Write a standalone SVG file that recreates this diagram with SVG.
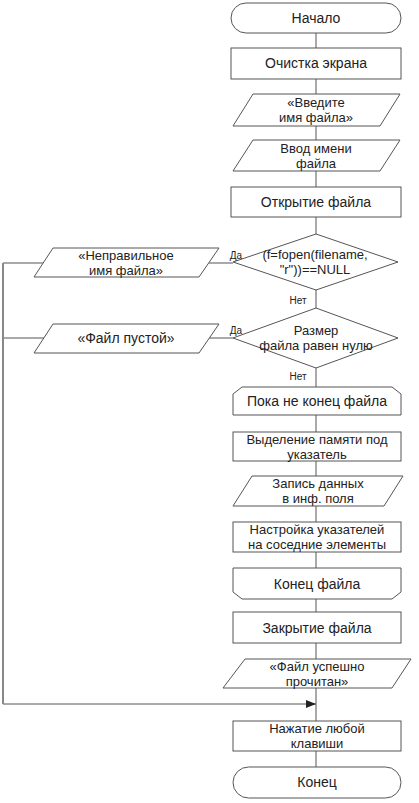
<svg xmlns="http://www.w3.org/2000/svg" width="419" height="803" viewBox="0 0 419 803">
<style>
.s{fill:#fff;stroke:#555;stroke-width:1}
.t{font-family:"Liberation Sans",Arial,sans-serif;font-size:14px;fill:#222;text-anchor:middle}
.m{font-size:13px}
.l{font-family:"Liberation Sans",Arial,sans-serif;font-size:10px;fill:#222;text-anchor:middle}
.c{fill:none;stroke:#555;stroke-width:1}
</style>
<defs>
<marker id="ah" markerWidth="10" markerHeight="8" refX="10" refY="4" orient="auto" markerUnits="userSpaceOnUse">
<path d="M0,0 L10,4 L0,8 Z" fill="#222"/>
</marker>
</defs>
<rect width="419" height="803" fill="#fff"/>
<g id="connectors">
<path class="c" d="M316,33 V767"/>
<path class="c" d="M3,704 H316" marker-end="url(#ah)"/>
<path class="c" d="M44,263 H3"/>
<path class="c" d="M44,338 H3"/>
<path class="c" d="M209,263 H233"/>
<path class="c" d="M209,338 H233"/>
<path class="c" d="M3,263 V704" style="stroke:#888;stroke-width:2"/>
</g>
<g id="start">
<rect class="s" x="231" y="3" width="170" height="30" rx="15"/>
<text class="t" x="316" y="23">Начало</text>
</g>
<g id="clear">
<rect class="s" x="231" y="48" width="170" height="31"/>
<text class="t" x="316" y="68">Очистка экрана</text>
</g>
<g id="prompt">
<polygon class="s" points="253,94 400,94 380,126 233,126"/>
<text class="t m" x="316" y="107">«Введите</text>
<text class="t m" x="316" y="122">имя файла»</text>
</g>
<g id="input">
<polygon class="s" points="253,140 400,140 380,171 233,171"/>
<text class="t m" x="316" y="152.5">Ввод имени</text>
<text class="t m" x="316" y="167.5">файла</text>
</g>
<g id="open">
<rect class="s" x="231" y="187" width="170" height="30"/>
<text class="t" x="316" y="207">Открытие файла</text>
</g>
<g id="dec1">
<polygon class="s" points="316,234 398,262 316,290 233,262"/>
<text class="t m" x="315" y="259">(f=fopen(filename,</text>
<text class="t m" x="315" y="274">"r"))==NULL</text>
<text class="l" x="236" y="259">Да</text>
<text class="l" x="298" y="304">Нет</text>
</g>
<g id="badname">
<polygon class="s" points="53,248 219,248 199,277 34,277"/>
<text class="t m" x="126" y="259.5">«Неправильное</text>
<text class="t m" x="126" y="274.5">имя файла»</text>
</g>
<g id="dec2">
<polygon class="s" points="316,308 398,338 316,368 233,338"/>
<text class="t m" x="316" y="335">Размер</text>
<text class="t m" x="316" y="350">файла равен нулю</text>
<text class="l" x="236" y="334">Да</text>
<text class="l" x="298" y="380">Нет</text>
</g>
<g id="empty">
<polygon class="s" points="53,324 219,324 199,353 34,353"/>
<text class="t" x="126" y="343">«Файл пустой»</text>
</g>
<g id="loopstart">
<polygon class="s" points="242,387 392,387 401,394 401,415 233,415 233,394"/>
<text class="t" x="317" y="406">Пока не конец файла</text>
</g>
<g id="alloc">
<rect class="s" x="233" y="432" width="168" height="29"/>
<text class="t m" x="317" y="443.5">Выделение памяти под</text>
<text class="t m" x="317" y="458.5">указатель</text>
</g>
<g id="write">
<polygon class="s" points="252,476 403,476 384,506 233,506"/>
<text class="t m" x="318" y="488">Запись данных</text>
<text class="t m" x="318" y="503">в инф. поля</text>
</g>
<g id="setup">
<rect class="s" x="233" y="522" width="168" height="30"/>
<text class="t m" x="317" y="534">Настройка указателей</text>
<text class="t m" x="317" y="549">на соседние элементы</text>
</g>
<g id="loopend">
<polygon class="s" points="233,568 401,568 401,592 392,599 242,599 233,592"/>
<text class="t" x="317" y="589">Конец файла</text>
</g>
<g id="close">
<rect class="s" x="233" y="612" width="168" height="31"/>
<text class="t" x="317" y="633">Закрытие файла</text>
</g>
<g id="success">
<polygon class="s" points="245,659 411,659 392,688 223,688"/>
<text class="t m" x="317" y="670.5">«Файл успешно</text>
<text class="t m" x="317" y="685.5">прочитан»</text>
</g>
<g id="keypress">
<rect class="s" x="233" y="721" width="168" height="30"/>
<text class="t m" x="317" y="733">Нажатие любой</text>
<text class="t m" x="317" y="748">клавиши</text>
</g>
<g id="end">
<rect class="s" x="233" y="767" width="168" height="31" rx="15.5"/>
<text class="t" x="317" y="787">Конец</text>
</g>
</svg>
